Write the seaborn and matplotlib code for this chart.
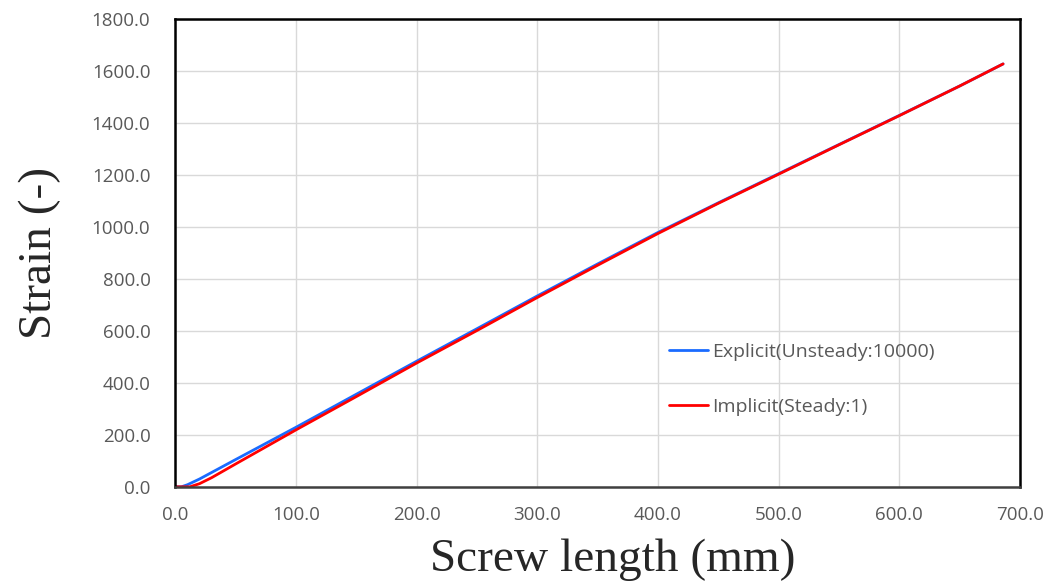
import seaborn as sns
import pandas as pd
import matplotlib.pyplot as plt

explicit_x = [0, 5, 10, 20, 30, 50, 100, 150, 200, 250, 300, 350, 400, 450, 500, 550, 600, 650, 686]
explicit_y = [0, 0, 8, 30, 55, 105, 229, 356, 483, 608, 734, 857, 978, 1092, 1204, 1316, 1428, 1541, 1626]
implicit_x = [0, 12, 20, 30, 50, 100, 150, 200, 250, 300, 350, 400, 450, 500, 550, 600, 650, 686]
implicit_y = [0, 0, 12, 35, 88, 219, 347, 476, 601, 728, 852, 974, 1090, 1202, 1315, 1427, 1541, 1626]

df = pd.concat([
    pd.DataFrame({'x': explicit_x, 'y': explicit_y, 'case': 'Explicit(Unsteady:10000)'}),
    pd.DataFrame({'x': implicit_x, 'y': implicit_y, 'case': 'Implicit(Steady:1)'}),
])

sns.set_style('white')
plt.rcParams['font.family'] = ['Open Sans', 'DejaVu Sans']

fig, ax = plt.subplots(figsize=(10.44, 5.83), dpi=100)
fig.subplots_adjust(left=0.168, right=0.977, top=0.968, bottom=0.165)

sns.lineplot(data=df, x='x', y='y', hue='case', palette=['#1a6bff', '#ff0000'],
             linewidth=2, ax=ax, sort=False, estimator=None)

ax.set_xlim(0, 700)
ax.set_ylim(0, 1800)
ax.set_xticks(range(0, 701, 100))
ax.set_yticks(range(0, 1801, 200))
ax.set_xticklabels([f'{v:.1f}' for v in range(0, 701, 100)])
ax.set_yticklabels([f'{v:.1f}' for v in range(0, 1801, 200)])
ax.tick_params(labelsize=13.5, colors='#595959', length=0)
ax.tick_params(axis='x', pad=14)
ax.tick_params(axis='y', pad=18)
ax.grid(True, color='#d9d9d9', linewidth=1)
for s in ax.spines.values():
    s.set_color('black')
    s.set_linewidth(1.8)
ax.spines['bottom'].set_color('#404040')

ax.set_xlabel('Screw length (mm)', fontsize=34, family='Liberation Serif', labelpad=10)
ax.xaxis.label.set_x(0.518)
ax.set_ylabel('Strain (-)', fontsize=34, family='Liberation Serif', labelpad=22)

leg = ax.legend(loc='center left', bbox_to_anchor=(0.564, 0.23), frameon=False,
                fontsize=14, labelspacing=1.9, handlelength=2.0, handletextpad=0.2)
for t in leg.get_texts():
    t.set_color('#595959')

plt.savefig('out.png')
